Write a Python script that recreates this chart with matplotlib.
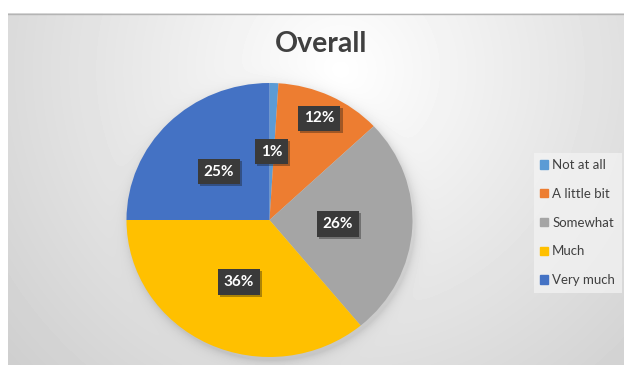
import numpy as np
import matplotlib.pyplot as plt
import matplotlib.patheffects as pe
from matplotlib.patches import Patch

# survey answers, share of respondents in percent
categories = ['Not at all', 'A little bit', 'Somewhat', 'Much', 'Very much']
shares = [1, 12, 26, 36, 25]
colors = ['#5B9BD5', '#ED7D31', '#A5A5A5', '#FFC000', '#4472C4']
# how far from the centre each percentage label sits (fraction of radius)
label_dist = [0.5, 0.82, 0.48, 0.5, 0.5]

plt.rcParams['font.family'] = ['Lato', 'DejaVu Sans']

W, H = 624, 365
fig = plt.figure(figsize=(W / 100, H / 100), dpi=100)

# chart area and pie geometry in pixels (y measured from the top)
x0, y0 = 8, 13
cx, cy = 269.5, 220
rx, ry = 143, 137

# grey radial gradient background with a soft shadow under the pie
bg = fig.add_axes([x0 / W, 0, 1 - x0 / W, (H - y0) / H])
ny, nx = H - y0, W - x0
yy, xx = np.mgrid[0:ny, 0:nx]
px, py = xx + x0, yy + y0
dist = np.hypot(px - 340, py - 70)
val = 1.0 - 0.19 * dist / 440
e = np.hypot((px - cx - 2) / rx, (py - cy - 3) / ry)
outside = np.clip((e - 1) * rx, 0, None)
val -= 0.10 * np.exp(-outside / 5)
bg.imshow(val, cmap='gray', vmin=0, vmax=1, aspect='auto',
          extent=(0, nx, ny, 0), interpolation='bilinear')
bg.plot([0, nx], [0.5, 0.5], color='#b4b4b4', lw=1)
bg.set_xlim(0, nx)
bg.set_ylim(ny, 0)
bg.axis('off')

# pie
ax = fig.add_axes([(cx - rx) / W, (H - cy - ry) / H, 2 * rx / W, 2 * ry / H])
wedges, _ = ax.pie(shares, colors=colors, startangle=90, counterclock=False,
                   radius=1, wedgeprops=dict(linewidth=0))
ax.set_aspect('auto')
ax.set_xlim(-1, 1)
ax.set_ylim(-1, 1)
ax.axis('off')

for w, pct, r in zip(wedges, shares, label_dist):
    ang = np.deg2rad((w.theta1 + w.theta2) / 2)
    t = ax.text(r * np.cos(ang), r * np.sin(ang), f'{pct}%',
                ha='center', va='center', color='white', fontsize=11,
                fontweight='bold',
                bbox=dict(boxstyle='square,pad=0.38', fc='#3a3a3a', ec='none'))
    t.get_bbox_patch().set_path_effects(
        [pe.withSimplePatchShadow(offset=(1.5, -1.5), alpha=0.35)])

fig.text(321 / W, 1 - 44 / H, 'Overall', ha='center', va='center',
         fontsize=20.5, fontweight='bold', color='#404040')

handles = [Patch(color=c) for c in colors]
fig.legend(handles, categories, loc='upper left',
           bbox_to_anchor=(527 / W, 1 - 146 / H), frameon=True,
           facecolor='#f4f4f4', edgecolor='none', framealpha=0.7,
           fancybox=False, fontsize=9.5, handlelength=0.6, handleheight=0.6,
           handletextpad=0.3, labelspacing=1.27, borderpad=0.5,
           labelcolor='#404040')

fig.savefig('out.png', dpi=100)
